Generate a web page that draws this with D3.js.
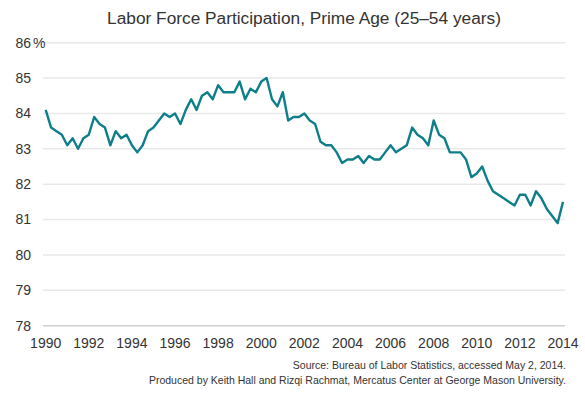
<!DOCTYPE html>
<html><head><meta charset="utf-8">
<script src="https://cdn.jsdelivr.net/npm/d3@7"></script>
<style>body{margin:0;background:#fff;}svg{display:block;}</style>
</head><body>
<svg id="c" width="585" height="398"></svg>
<script>
const title = "Labor Force Participation, Prime Age (25–54 years)";
const sourceLines = ["Source: Bureau of Labor Statistics, accessed May 2, 2014.",
  "Produced by Keith Hall and Rizqi Rachmat, Mercatus Center at George Mason University."];
const startYear = 1990;
const yTicks = [78, 79, 80, 81, 82, 83, 84, 85, 86];
const xTicks = [1990, 1992, 1994, 1996, 1998, 2000, 2002, 2004, 2006, 2008, 2010, 2012, 2014];
// quarterly values, 1990 Q1 – 2014 Q1
const values = [
  84.1, 83.6, 83.5, 83.4, 83.1, 83.3, 83.0, 83.3, 83.4, 83.9, 83.7, 83.6,
  83.1, 83.5, 83.3, 83.4, 83.1, 82.9, 83.1, 83.5, 83.6, 83.8, 84.0, 83.9,
  84.0, 83.7, 84.1, 84.4, 84.1, 84.5, 84.6, 84.4, 84.8, 84.6, 84.6, 84.6,
  84.9, 84.4, 84.7, 84.6, 84.9, 85.0, 84.4, 84.2, 84.6, 83.8, 83.9, 83.9,
  84.0, 83.8, 83.7, 83.2, 83.1, 83.1, 82.9, 82.6, 82.7, 82.7, 82.8, 82.6,
  82.8, 82.7, 82.7, 82.9, 83.1, 82.9, 83.0, 83.1, 83.6, 83.4, 83.3, 83.1,
  83.8, 83.4, 83.3, 82.9, 82.9, 82.9, 82.7, 82.2, 82.3, 82.5, 82.1, 81.8,
  81.7, 81.6, 81.5, 81.4, 81.7, 81.7, 81.4, 81.8, 81.6, 81.3, 81.1, 80.9,
  81.5
];
const data = values.map((v, i) => ({t: startYear + i / 4, v}));

const svg = d3.select("#c");
const font = "'Liberation Sans', Arial, sans-serif";
const x = d3.scaleLinear().domain([1990, 2014]).range([45.7, 563]);
const y = d3.scaleLinear().domain([78, 86]).range([325.7, 42.7]);

svg.append("text").attr("x", 304).attr("y", 24).attr("text-anchor", "middle")
  .attr("font-family", font).attr("font-size", 17.3).attr("fill", "#333").text(title);

// gridlines
svg.append("g").selectAll("line").data(yTicks).join("line")
  .attr("x1", 43).attr("x2", 565)
  .attr("y1", d => y(d)).attr("y2", d => y(d))
  .attr("stroke", d => d === 78 ? "#cfcfcf" : "#e9e9e9").attr("stroke-width", 1.5);

// y labels
svg.append("g").selectAll("text").data(yTicks).join("text")
  .attr("x", 31).attr("y", d => y(d)).attr("dy", "0.35em").attr("text-anchor", "end")
  .attr("font-family", font).attr("font-size", 14).attr("fill", "#333").text(d => d);
svg.append("text").attr("x", 33).attr("y", y(86)).attr("dy", "0.35em")
  .attr("font-family", font).attr("font-size", 14).attr("fill", "#333").text("%");

// x labels
svg.append("g").selectAll("text").data(xTicks).join("text")
  .attr("x", d => x(d)).attr("y", 348).attr("text-anchor", "middle")
  .attr("font-family", font).attr("font-size", 14).attr("fill", "#333").text(d => d);

// line
const line = d3.line().x(d => x(d.t)).y(d => y(d.v));
svg.append("path").datum(data).attr("d", line).attr("fill", "none")
  .attr("stroke", "#0e7f8a").attr("stroke-width", 2.4).attr("stroke-linejoin", "round");

// source
svg.append("g").selectAll("text").data(sourceLines).join("text")
  .attr("x", 566).attr("y", (d, i) => 369 + i * 15).attr("text-anchor", "end")
  .attr("font-family", font).attr("font-size", 10.5).attr("fill", "#333").text(d => d);
</script>
</body></html>
